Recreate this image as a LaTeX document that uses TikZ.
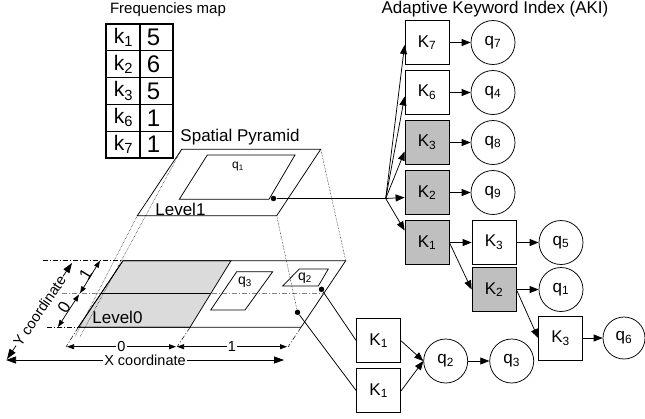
\documentclass[tikz,border=0pt]{standalone}
\usepackage{fontspec}
\setmainfont{Liberation Sans}
\usetikzlibrary{positioning,arrows.meta}

\begin{document}
\begin{tikzpicture}[
	x=1pt, y=-1pt,
	node distance=50pt,
	line width=0.75pt,
	keybox/.style={draw, minimum size=44pt, inner sep=0pt, font=\fontsize{17}{17}\selectfont},
	graykey/.style={keybox, fill=gray!50},
	query/.style={draw, circle, minimum size=44pt, inner sep=0pt, font=\fontsize{17}{17}\selectfont},
	lbl/.style={font=\fontsize{17}{17}\selectfont},
	smalllbl/.style={font=\fontsize{14.5}{14.5}\selectfont},
	onlinelbl/.style={smalllbl, fill=white, inner sep=1pt},
	idx/.style={-{Triangle[length=9pt,width=7pt]}},
	dimline/.style={{Triangle[length=7pt,width=5pt]}-{Triangle[length=7pt,width=5pt]}},
	bigdim/.style={{Triangle[length=10pt,width=7pt]}-{Triangle[length=10pt,width=7pt]}},
	extline/.style={line width=0.5pt, dash pattern=on 5pt off 2pt on 1pt off 2pt},
	projline/.style={line width=0.5pt, densely dotted},
	refdot/.style={circle, fill, inner sep=0pt, minimum size=5.5pt}
	]
	\useasboundingbox (0,0) rectangle (645,418);

	% Frequencies map
	\node[font=\fontsize{15}{15}\selectfont] (freqtitle) at (168,10) {Frequencies map};
	\foreach \k/\n [count=\i] in {1/5,2/6,3/5,6/1,7/1} {
		\node[font=\fontsize{21}{21}\selectfont] (key\i) at (123.5,{24+26.8*\i-13.4}) {k\textsubscript{\k}};
		\node[font=\fontsize{24}{24}\selectfont] (freq\i) at (153.5,{24+26.8*\i-13.4}) {\n};
	}
	\foreach \y in {50.8,77.6,104.4,131.2}
		\draw[line width=1pt] (106,\y) -- (173,\y);
	\draw[line width=1.8pt] (140,24) -- (140,158);
	\draw[line width=2.5pt] (106,24) rectangle (173,158);

	% Spatial pyramid, level 1
	\node[lbl] (pyrtitle) at (240,137.5) {Spatial Pyramid};
	\coordinate (l1tl) at (181.7,149.3);
	\coordinate (l1tr) at (320.7,149.3);
	\coordinate (l1br) at (276.7,215.7);
	\coordinate (l1bl) at (137.3,215.7);
	\draw (l1tl) -- (l1tr) -- (l1br) -- (l1bl) -- cycle;
	\draw (207.3,155) -- (295,155) -- (269,199.3) -- (179.3,199.3) -- cycle;
	\node[font=\fontsize{12}{12}\selectfont] (q1lbl) at (238,166.5) {q\textsubscript{1}};
	\node[lbl, anchor=west, inner sep=0pt] (lev1) at (155,209) {Level1};
	\node[refdot] (l1dot) at (273.5,198.5) {};

	% Spatial pyramid, level 0
	\coordinate (l0tl) at (123,260.7);
	\coordinate (l0tr) at (345.7,260.7);
	\coordinate (l0br) at (301,327.3);
	\coordinate (l0bl) at (78.3,327.3);
	\filldraw[fill=gray!28] (l0tl) -- (231,260.7) -- (190,327.3) -- (l0bl) -- cycle;
	\draw (l0tl) -- (l0tr) -- (l0br) -- (l0bl) -- cycle;
	\draw[extline, gray] (62,293.3) -- (324,293.3);
	\draw (100.7,293.3) -- (211,293.3);
	\draw[extline] (43,260.7) -- (l0tl);
	\draw[extline] (46.7,327.3) -- (l0bl);
	\draw[extline] (l0bl) -- (66,347);
	\draw[extline] (190,327.3) -- (177,347);
	\draw[extline] (l0br) -- (288,347);
	\node[lbl, anchor=west, inner sep=0pt] (lev0) at (92,317) {Level0};
	\draw (236.7,271.7) -- (272.7,271.7) -- (245,310) -- (210.7,310) -- cycle;
	\node[font=\fontsize{14}{14}\selectfont] (q3lbl) at (245,281.7) {q\textsubscript{3}};
	\draw (299.3,269) -- (328.3,269) -- (318.3,286) -- (282.7,286) -- cycle;
	\node[font=\fontsize{14}{14}\selectfont] (q2lbl) at (305,278) {q\textsubscript{2}};
	\node[refdot] (l0dotA) at (321.5,289.3) {};
	\node[refdot] (l0dotB) at (297.5,312.3) {};

	% Projection lines between the levels
	\draw[projline] (l1tl) -- (80,336.7);
	\draw[projline] (l1bl) -- (75,336.7);
	\draw[projline] (l1tr) -- (l0tr);
	\draw[projline] (l1br) -- (l0dotB);

	% Coordinate axes
	\draw[dimline] (67,346.7) -- node[onlinelbl] {0} (176,346.7);
	\draw[dimline] (177,346.7) -- node[onlinelbl] {1} (287,346.7);
	\draw[bigdim] (6,360) -- node[onlinelbl] {X coordinate} (284,360);
	\draw[bigdim] (7,359) -- node[onlinelbl, sloped] {Y coordinate} (72,263);
	\draw[dimline] (80,293.3) -- node[lbl, sloped, above=-2pt, inner sep=1pt] {1} (100,260.7);
	\draw[dimline] (58,327) -- node[lbl, sloped, above=-2pt, inner sep=1pt] {0} (79,294.5);

	% Adaptive keyword index
	\node[lbl] (akititle) at (495,9.5) {Adaptive Keyword Index (AKI)};
	\node[keybox] (K7) at (427,42.5) {K\textsubscript{7}};
	\node[keybox, below of=K7] (K6) {K\textsubscript{6}};
	\node[graykey, below of=K6] (K3) {K\textsubscript{3}};
	\node[graykey, below of=K3] (K2) {K\textsubscript{2}};
	\node[graykey, below of=K2] (K1) {K\textsubscript{1}};
	\node[query, right of=K7, node distance=66pt] (q7) {q\textsubscript{7}};
	\node[query, right of=K6, node distance=66pt] (q4) {q\textsubscript{4}};
	\node[query, right of=K3, node distance=66pt] (q8) {q\textsubscript{8}};
	\node[query, right of=K2, node distance=66pt] (q9) {q\textsubscript{9}};
	\node[keybox, right of=K1, node distance=67pt] (K1K3) {K\textsubscript{3}};
	\node[query, right of=K1K3, node distance=67pt] (q5) {q\textsubscript{5}};
	\node[graykey, below of=K1K3, node distance=47pt] (K1K2) {K\textsubscript{2}};
	\node[query, right of=K1K2, node distance=67pt] (q1) {q\textsubscript{1}};
	\node[keybox] (K2K3) at (560.5,338) {K\textsubscript{3}};
	\node[query, minimum size=42pt, right of=K2K3, node distance=63.5pt] (q6) {q\textsubscript{6}};

	% Cell index entries
	\node[keybox] (K1a) at (378.7,340.8) {K\textsubscript{1}};
	\node[keybox, below of=K1a] (K1b) {K\textsubscript{1}};
	\node[query] (q2) at (445.7,361) {q\textsubscript{2}};
	\node[query, right of=q2, node distance=66pt] (q3) {q\textsubscript{3}};

	% Arrows
	\coordinate (fan) at (385.7,198.5);
	\draw (l1dot) -- (fan);
	\foreach \k/\s in {K7/-2.5,K6/-4,K3/-9,K2/-5,K1/12}
		\draw[idx] (fan) -- ([yshift=\s pt]\k.west);
	\draw[idx] (K7) -- (q7);
	\draw[idx] (K6) -- (q4);
	\draw[idx] (K3) -- (q8);
	\draw[idx] (K2) -- (q9);
	\draw[idx] (K1.east) -- (K1K3.west);
	\draw[idx] (K1.east) -- (K1K2.west);
	\draw[idx] (K1K3) -- (q5);
	\draw[idx] (K1K2) -- (q1);
	\draw[idx] (K1K2.east) -- (K2K3.west);
	\draw[idx] (K2K3) -- (q6);

	\draw (l0dotA) -- (K1a.west);
	\draw (l0dotB) -- (K1b.west);
	\draw[idx] (K1a.east) -- (q2.west);
	\draw[idx] (K1b.east) -- (q2.west);
	\draw[idx] (q2) -- (q3);

\end{tikzpicture}
\end{document}
